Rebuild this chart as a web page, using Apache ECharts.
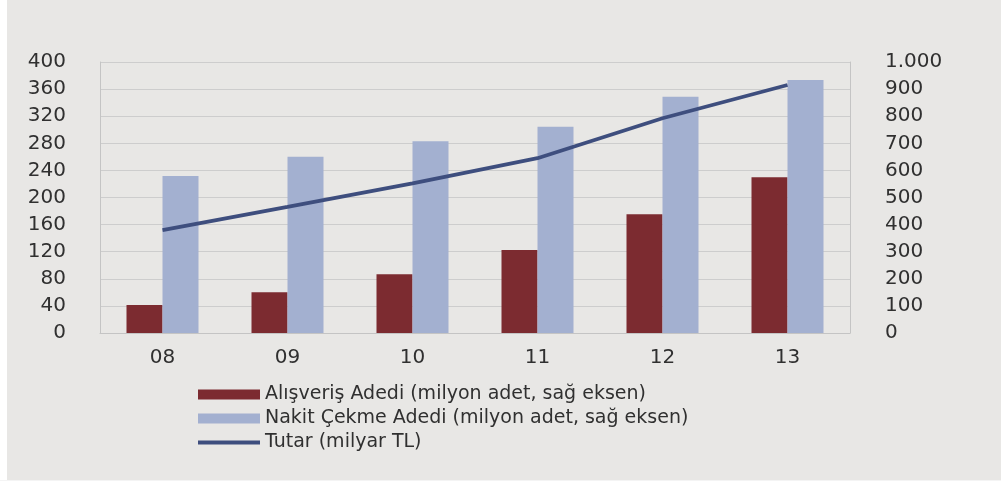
<!DOCTYPE html>
<html>
<head>
<meta charset="utf-8">
<script src="https://cdn.jsdelivr.net/npm/echarts@6/dist/echarts.min.js"></script>
<style>
html,body{margin:0;padding:0;background:#ffffff;}
#c{width:1001px;height:481px;}
</style>
</head>
<body>
<div id="c"></div>
<script>
const categories = ['08', '09', '10', '11', '12', '13'];
const alisverisAdedi = [103, 150, 217, 306, 438, 575];
const nakitCekmeAdedi = [579, 650, 708, 761, 872, 934];
const tutar = [152, 186, 221, 258, 317, 366];
const leftTicks = { min: 0, max: 400, interval: 40 };
const rightTicks = { min: 0, max: 1000, interval: 100 };
const seriesNames = [
  'Alışveriş Adedi (milyon adet, sağ eksen)',
  'Nakit Çekme Adedi (milyon adet, sağ eksen)',
  'Tutar (milyar TL)'
];

const chart = echarts.init(document.getElementById('c'), null, { renderer: 'canvas' });
const font = 'DejaVu Sans, Verdana, sans-serif';
const labelColor = '#303030';
const gridColor = '#cdcdcd';

chart.setOption({
  backgroundColor: '#e8e7e5',
  animation: false,
  graphic: [{
    type: 'rect', left: 0, top: 0, z: -10,
    shape: { width: 7, height: 481 },
    style: { fill: '#ffffff' }
  }, {
    type: 'rect', left: 0, top: 480, z: -10,
    shape: { width: 1001, height: 1 },
    style: { fill: '#f4f4f4' }
  }],
  grid: { left: 100, right: 151, top: 62, bottom: 148, containLabel: false },
  legend: {
    orient: 'vertical',
    left: 193,
    top: 380,
    itemWidth: 62,
    itemHeight: 10,
    itemGap: 5,
    textStyle: { fontFamily: font, fontSize: 19, color: labelColor, lineHeight: 19 },
    data: [
      { name: seriesNames[0], icon: 'rect' },
      { name: seriesNames[1], icon: 'rect' },
      { name: seriesNames[2], icon: 'path://M0,0 L64,0 L64,4 L0,4 Z' }
    ]
  },
  xAxis: {
    type: 'category',
    data: categories,
    axisLine: { show: true, lineStyle: { color: '#c4c4c4', width: 1 } },
    axisTick: { show: false },
    axisLabel: { fontFamily: font, fontSize: 20, color: labelColor, margin: 15 }
  },
  yAxis: [{
    type: 'value',
    position: 'left',
    min: leftTicks.min, max: leftTicks.max, interval: leftTicks.interval,
    axisLine: { show: true, lineStyle: { color: '#c4c4c4', width: 1 } },
    axisTick: { show: false },
    splitLine: { show: true, lineStyle: { color: gridColor, width: 1 } },
    axisLabel: { fontFamily: font, fontSize: 20, color: labelColor, margin: 34 }
  }, {
    type: 'value',
    position: 'right',
    min: rightTicks.min, max: rightTicks.max, interval: rightTicks.interval,
    axisLine: { show: true, lineStyle: { color: '#c4c4c4', width: 1 } },
    axisTick: { show: false },
    splitLine: { show: false },
    axisLabel: {
      fontFamily: font, fontSize: 20, color: labelColor, margin: 35,
      formatter: v => String(v).replace(/\B(?=(\d{3})+(?!\d))/g, '.')
    }
  }],
  series: [{
    name: seriesNames[0],
    type: 'bar',
    yAxisIndex: 1,
    data: alisverisAdedi,
    barWidth: 36,
    barGap: '0%',
    itemStyle: { color: '#7c2b30' }
  }, {
    name: seriesNames[1],
    type: 'bar',
    yAxisIndex: 1,
    data: nakitCekmeAdedi,
    barWidth: 36,
    barGap: '0%',
    itemStyle: { color: '#a3b0d0' }
  }, {
    name: seriesNames[2],
    type: 'line',
    yAxisIndex: 0,
    data: tutar,
    symbol: 'none',
    lineStyle: { color: '#3e4e7e', width: 3.8 },
    itemStyle: { color: '#3e4e7e' },
    z: 5
  }]
});
</script>
</body>
</html>
